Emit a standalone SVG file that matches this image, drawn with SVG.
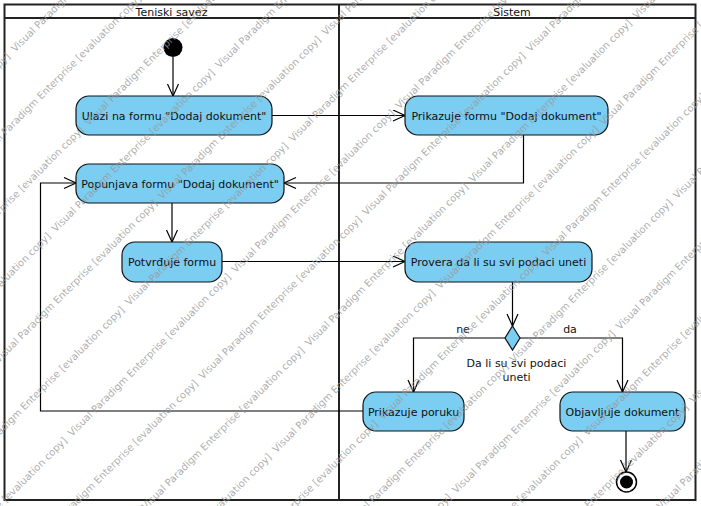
<svg xmlns="http://www.w3.org/2000/svg" width="701" height="506" viewBox="0 0 701 506">
<defs>
<style>
.frame{fill:none;stroke:#222;stroke-width:2}
.node{fill:#7bcdf1;stroke:#111;stroke-width:1.2}
.lbl{font-family:"DejaVu Sans",sans-serif;font-size:11px;fill:#111;text-anchor:middle}
.edge{fill:none;stroke:#000;stroke-width:1.2}
.wm{font-family:"DejaVu Sans",sans-serif;font-size:10px;fill:#999;fill-opacity:0.8}
</style>
<marker id="arr" markerUnits="userSpaceOnUse" markerWidth="16" markerHeight="14" refX="13" refY="6" orient="auto">
<path d="M1,0.5 L13,6 L1,11.5" fill="none" stroke="#000" stroke-width="1.2"/>
</marker>
</defs>
<rect x="0" y="0" width="701" height="506" fill="#fff"/>
<g id="swimlanes">
<rect class="frame" x="4.5" y="4.5" width="691" height="495.5"/>
<line class="frame" x1="4.5" y1="18" x2="695.5" y2="18"/>
<line class="frame" x1="339" y1="4.5" x2="339" y2="500"/>
<text class="lbl" x="171.5" y="15.5">Teniski savez</text>
<text class="lbl" x="512" y="15.5">Sistem</text>
</g>
<g id="connectors">
<path class="edge" marker-end="url(#arr)" d="M173,57 L173,96"/>
<path class="edge" marker-end="url(#arr)" d="M272,115.5 L405,115.5"/>
<path class="edge" marker-end="url(#arr)" d="M523.5,135 L523.5,183 L284,183"/>
<path class="edge" marker-end="url(#arr)" d="M172,203 L172,242"/>
<path class="edge" marker-end="url(#arr)" d="M222,261.5 L405,261.5"/>
<path class="edge" marker-end="url(#arr)" d="M512.5,282 L512.5,326"/>
<path class="edge" marker-end="url(#arr)" d="M505,338 L413.5,338 L413.5,392"/>
<path class="edge" marker-end="url(#arr)" d="M520,338 L622.5,338 L622.5,392"/>
<path class="edge" marker-end="url(#arr)" d="M363,411 L40.5,411 L40.5,183 L76,183"/>
<path class="edge" marker-end="url(#arr)" d="M626,431 L626,472"/>
<text class="lbl" x="463" y="333">ne</text>
<text class="lbl" x="570" y="333">da</text>
</g>
<g id="start"><circle cx="173" cy="47.5" r="9.5" fill="#000"/></g>
<g id="n1"><rect class="node" x="76" y="96" width="196" height="39" rx="13"/><text class="lbl" x="174" y="119.5">Ulazi na formu "Dodaj dokument"</text></g>
<g id="n2"><rect class="node" x="405" y="96" width="203" height="39" rx="13"/><text class="lbl" x="506.5" y="119.5">Prikazuje formu "Dodaj dokument"</text></g>
<g id="n3"><rect class="node" x="76" y="164" width="208" height="39" rx="13"/><text class="lbl" x="180" y="187.5">Popunjava formu "Dodaj dokument"</text></g>
<g id="n4"><rect class="node" x="122" y="242" width="100" height="40" rx="13"/><text class="lbl" x="172" y="266">Potvrđuje formu</text></g>
<g id="n5"><rect class="node" x="405" y="242" width="187" height="40" rx="13"/><text class="lbl" x="498.5" y="266">Provera da li su svi podaci uneti</text></g>
<g id="decision"><polygon class="node" points="512.5,326 520,338 512.5,350 505,338"/><text class="lbl" x="516.5" y="367">Da li su svi podaci</text><text class="lbl" x="516.5" y="381">uneti</text></g>
<g id="n6"><rect class="node" x="363" y="392" width="101" height="39" rx="13"/><text class="lbl" x="413.5" y="415.5">Prikazuje poruku</text></g>
<g id="n7"><rect class="node" x="560" y="392" width="125" height="39" rx="13"/><text class="lbl" x="622.5" y="415.5">Objavljuje dokument</text></g>
<g id="end"><circle cx="626.5" cy="482" r="10" fill="#fff" stroke="#000" stroke-width="1.5"/><circle cx="626.5" cy="482" r="6.5" fill="#000"/></g>
<g id="watermark" class="wm" transform="rotate(-45)">
<text x="-258" y="47.9">Visual Paradigm Enterprise [evaluation copy]</text>
<text x="-26.5" y="47.9">Visual Paradigm Enterprise [evaluation copy]</text>
<text x="-125" y="99.9">Visual Paradigm Enterprise [evaluation copy]</text>
<text x="-258" y="151.9">Visual Paradigm Enterprise [evaluation copy]</text>
<text x="-26.5" y="151.9">Visual Paradigm Enterprise [evaluation copy]</text>
<text x="-356.5" y="203.9">Visual Paradigm Enterprise [evaluation copy]</text>
<text x="-125" y="203.9">Visual Paradigm Enterprise [evaluation copy]</text>
<text x="106.5" y="203.9">Visual Paradigm Enterprise [evaluation copy]</text>
<text x="-258" y="255.9">Visual Paradigm Enterprise [evaluation copy]</text>
<text x="-26.5" y="255.9">Visual Paradigm Enterprise [evaluation copy]</text>
<text x="205" y="255.9">Visual Paradigm Enterprise [evaluation copy]</text>
<text x="-356.5" y="307.9">Visual Paradigm Enterprise [evaluation copy]</text>
<text x="-125" y="307.9">Visual Paradigm Enterprise [evaluation copy]</text>
<text x="106.5" y="307.9">Visual Paradigm Enterprise [evaluation copy]</text>
<text x="-489.5" y="359.9">Visual Paradigm Enterprise [evaluation copy]</text>
<text x="-258" y="359.9">Visual Paradigm Enterprise [evaluation copy]</text>
<text x="-26.5" y="359.9">Visual Paradigm Enterprise [evaluation copy]</text>
<text x="205" y="359.9">Visual Paradigm Enterprise [evaluation copy]</text>
<text x="-356.5" y="411.9">Visual Paradigm Enterprise [evaluation copy]</text>
<text x="-125" y="411.9">Visual Paradigm Enterprise [evaluation copy]</text>
<text x="106.5" y="411.9">Visual Paradigm Enterprise [evaluation copy]</text>
<text x="338" y="411.9">Visual Paradigm Enterprise [evaluation copy]</text>
<text x="-258" y="463.9">Visual Paradigm Enterprise [evaluation copy]</text>
<text x="-26.5" y="463.9">Visual Paradigm Enterprise [evaluation copy]</text>
<text x="205" y="463.9">Visual Paradigm Enterprise [evaluation copy]</text>
<text x="436.5" y="463.9">Visual Paradigm Enterprise [evaluation copy]</text>
<text x="-356.5" y="515.9">Visual Paradigm Enterprise [evaluation copy]</text>
<text x="-125" y="515.9">Visual Paradigm Enterprise [evaluation copy]</text>
<text x="106.5" y="515.9">Visual Paradigm Enterprise [evaluation copy]</text>
<text x="338" y="515.9">Visual Paradigm Enterprise [evaluation copy]</text>
<text x="-258" y="567.9">Visual Paradigm Enterprise [evaluation copy]</text>
<text x="-26.5" y="567.9">Visual Paradigm Enterprise [evaluation copy]</text>
<text x="205" y="567.9">Visual Paradigm Enterprise [evaluation copy]</text>
<text x="-125" y="619.9">Visual Paradigm Enterprise [evaluation copy]</text>
<text x="106.5" y="619.9">Visual Paradigm Enterprise [evaluation copy]</text>
<text x="338" y="619.9">Visual Paradigm Enterprise [evaluation copy]</text>
<text x="-258" y="671.9">Visual Paradigm Enterprise [evaluation copy]</text>
<text x="-26.5" y="671.9">Visual Paradigm Enterprise [evaluation copy]</text>
<text x="205" y="671.9">Visual Paradigm Enterprise [evaluation copy]</text>
<text x="-125" y="723.9">Visual Paradigm Enterprise [evaluation copy]</text>
<text x="106.5" y="723.9">Visual Paradigm Enterprise [evaluation copy]</text>
<text x="-26.5" y="775.9">Visual Paradigm Enterprise [evaluation copy]</text>
<text x="205" y="775.9">Visual Paradigm Enterprise [evaluation copy]</text>
<text x="106.5" y="827.9">Visual Paradigm Enterprise [evaluation copy]</text>
</g>
</svg>
